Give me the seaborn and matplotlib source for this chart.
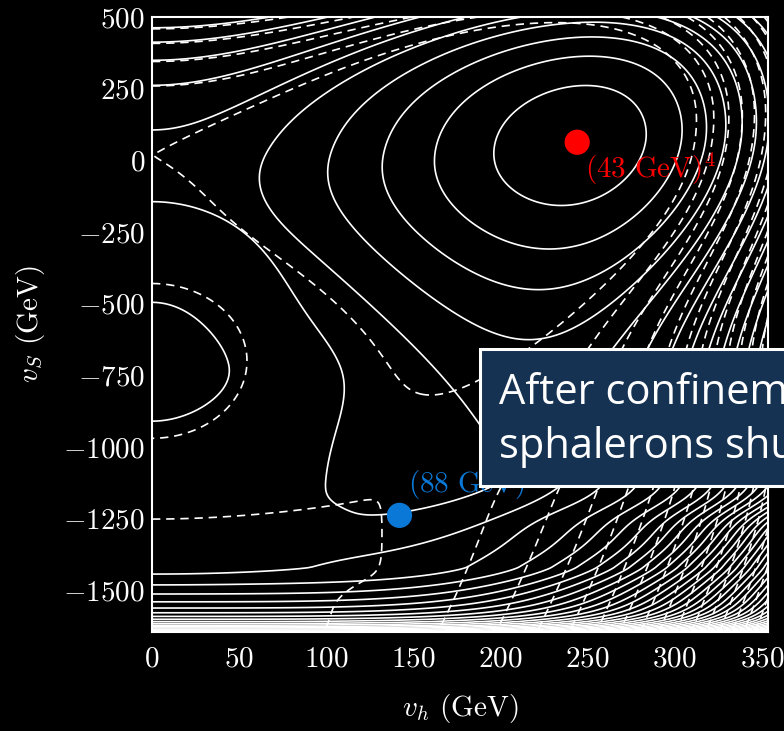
import numpy as np
import matplotlib
matplotlib.use("Agg")
import matplotlib.pyplot as plt
from matplotlib.patches import Rectangle
import seaborn as sns

# ---------------- axes ----------------
H_LIM = (0.0, 353.5)          # v_h range (GeV)
S_LIM = (-1646.0, 500.0)      # v_S range (GeV)
X_TICKS = [0, 50, 100, 150, 200, 250, 300, 350]
Y_TICKS = [500, 250, 0, -250, -500, -750, -1000, -1250, -1500]

# ---------------- marked vacua ----------------
vac_name = ["before", "after"]
vac_h = [244.0, 142.0]
vac_s = [63.0, -1239.0]
vac_color = ["#ff0000", "#0a78d6"]
vac_text = [r"$(43\ \mathrm{GeV})^4$", r"$(88\ \mathrm{GeV})^4$"]
text_h = [248.5, 147.0]
text_s = [-63.0, -1162.0]

# ---------------- contour levels (units of the level step) ----------------
levels = 0.67 + np.arange(0, 90)
saddle_level = 5.67

# ---------------- potential parameters ----------------
S0 = 0.063          # singlet position of the upper minimum (TeV)
M0 = 5.95           # (v_h/100 GeV)^2 at the upper minimum
CURV = 6.4          # h-direction stiffness
UP2, UP4 = 16.0, 28.0
DN_DEPTH, DN_WIDTH = 4.75, 0.566
DN_DEPTH_D, DN_WIDTH_D = 4.55, 0.536
CHAN_POS, CHAN_WIDTH, CHAN_DEPTH = -1.34, 0.05, 0.6
DROP_POS, DROP_WIDTH = -1.22, 0.08
LEFT_MIN, LEFT_POS = 3.5, -0.71
WALL_POS = -1.42
TILT = 0.33


def relu(z):
    return np.maximum(z, 0.0)


def sigmoid(z):
    return 0.5 * (1.0 + np.tanh(0.5 * z))


def smin(a, b, t):
    return -t * np.logaddexp(-a / t, -b / t)


def valley_base(dy):
    return M0 + 1.6 * dy - 0.6 * np.sqrt(dy ** 2 + 0.01) + 0.06


def floor_profile(dy, depth, width):
    up = UP2 * dy ** 2 + UP4 * dy ** 4
    dn = depth * (1.0 - np.exp(-(dy / width) ** 2))
    return np.where(dy >= 0, up, dn)


h = np.linspace(H_LIM[0], H_LIM[1], 700)
s = np.linspace(S_LIM[0], S_LIM[1], 700)
Hg, Sg = np.meshgrid(h, s)
x = Hg / 100.0
y = Sg / 1000.0
u = x ** 2
dy = y - S0

# ---- zero-temperature potential (solid) ----
F = floor_profile(dy, DN_DEPTH, DN_WIDTH)
m = valley_base(dy) + 0.2 * np.log1p(np.exp((-0.65 - dy) / 0.1))
drop = 0.5 * (1.0 + np.tanh((y - DROP_POS) / DROP_WIDTH))
chan_c = CHAN_POS + 0.008 * u ** 2
dip = (CHAN_DEPTH * np.exp(-((y - chan_c) / CHAN_WIDTH) ** 2)
       * np.exp(-relu(u - 5.0) ** 2 / 4.0))
curv = CURV + 30.0 * np.exp(-((y + 1.3) / 0.12) ** 2) * np.exp(-u / 4.0)
V_upper = (u - m * drop) ** 2 / curv + F - dip

dl = y - LEFT_POS
a_y = 0.7 + 0.8 / (1.0 + np.exp(-(y + 0.6) / 0.08))
V_left = (LEFT_MIN
          + np.where(dl > 0, 3.7 * dl ** 2, 0.38 * (1.0 - np.exp(-(dl / 0.26) ** 2)))
          + 30.0 * relu(-1.3 - y) ** 2
          + a_y * u + 0.1 * u ** 2 + 0.03 * u ** 3 + 8.0 * relu(y + 0.15) ** 2)

d = relu(WALL_POS - y)
wall = (d / 0.06) ** 1.5 * (1.0 + (d / 0.22) ** 6)
V = smin(V_upper, V_left, 0.25) + wall

# ---- confined-phase potential (dashed) ----
F_d = floor_profile(dy, DN_DEPTH_D, DN_WIDTH_D) + 0.45 * sigmoid((-1.0 - y) / 0.08)
m_d = valley_base(dy) - 0.45 * np.log1p(np.exp((-1.0 - y) / 0.15))
curv_d = CURV + 5.6 / (1.0 + np.exp((y + 0.9) / 0.15))
D_raw = ((u - m_d) ** 2 / curv_d + F_d + TILT * u
         - 0.22 * sigmoid((y - 0.15) / 0.05)
         - 1.8 * y * np.exp(-2.0 * u) * np.exp(-(y / 0.2) ** 2))
axis_band = (s > -400) & (s < 300)
v_saddle = D_raw[axis_band, 0].min()
D_upper = saddle_level - 0.5 + 0.08 * np.logaddexp(0.0, (D_raw - v_saddle + 0.5) / 0.08)
plateau = saddle_level + 0.55 + 40.0 * relu(y + 0.05) ** 2 + 40.0 * relu(x - 1.35) ** 2
B_left = saddle_level - 0.4 + 0.4 * (((y + 0.7) / 0.27) ** 2 + (x / 0.545) ** 2)
f1 = y - (-1.26 + 0.05 * x ** 2)
f2 = (-1.65 + 0.3 * (x - 0.6)) - y
f3 = x - 1.32
g = 0.03 * np.logaddexp(np.logaddexp(f1 / 0.03, f2 / 0.03), f3 / 0.03)
B_bottom = saddle_level + 2.0 * g + 20.0 * relu(g) ** 2
D = smin(D_upper, smin(plateau, smin(B_left, B_bottom, 0.05), 0.05), 0.05)

# ---------------- style ----------------
sns.set_theme(style="dark", rc={"axes.facecolor": "black",
                                "figure.facecolor": "black",
                                "savefig.facecolor": "black"})
plt.rcParams.update({
    "font.family": "serif",
    "font.serif": ["cmr10"],
    "mathtext.fontset": "cm",
    "axes.formatter.use_mathtext": True,
    "axes.unicode_minus": True,
})

fig = plt.figure(figsize=(7.84, 7.31), dpi=100)
ax = fig.add_axes([152 / 784, 1 - 632 / 731, 616 / 784, 615 / 731])
ax.set_facecolor("black")
ax.grid(False)

ax.contour(Hg, Sg, V, levels=levels, colors="white", linewidths=1.2)
cs_d = ax.contour(Hg, Sg, D, levels=levels, colors="white", linewidths=1.2)
cs_d.set_linestyle((0, (5, 3.5)))

sns.scatterplot(x=vac_h, y=vac_s, hue=vac_name, palette=vac_color, s=330,
                edgecolor="none", legend=False, ax=ax, zorder=5)
for th, ts, txt, col in zip(text_h, text_s, vac_text, vac_color):
    ax.text(th, ts, txt, color=col, fontsize=21, ha="left", va="baseline", zorder=6)

ax.set_xlim(*H_LIM)
ax.set_ylim(*S_LIM)
ax.set_xticks(X_TICKS)
ax.set_yticks(Y_TICKS)
ax.tick_params(axis="both", direction="in", length=6, width=1.0,
               colors="white", labelsize=21)
ax.tick_params(axis="x", pad=10)
ax.tick_params(axis="y", pad=5)
ax.set_xlabel(r"$v_h$ (GeV)", fontsize=21, color="white", labelpad=14)
ax.set_ylabel(r"$v_S$ (GeV)", fontsize=21, color="white", labelpad=12)
for sp in ax.spines.values():
    sp.set_color("white")
    sp.set_linewidth(1.5)

# callout box
fig.add_artist(Rectangle((480 / 784, 1 - 486 / 731), 0.6, 137 / 731,
                         transform=fig.transFigure, facecolor="#163252",
                         edgecolor="white", linewidth=2.2, zorder=10))
fig.text(499 / 784, 1 - 404 / 731, "After confinement,", fontsize=30,
         family="Open Sans", color="white", zorder=11)
fig.text(499 / 784, 1 - 458 / 731, "sphalerons shut off", fontsize=30,
         family="Open Sans", color="white", zorder=11)

fig.savefig("out.png", dpi=100, facecolor="black")
